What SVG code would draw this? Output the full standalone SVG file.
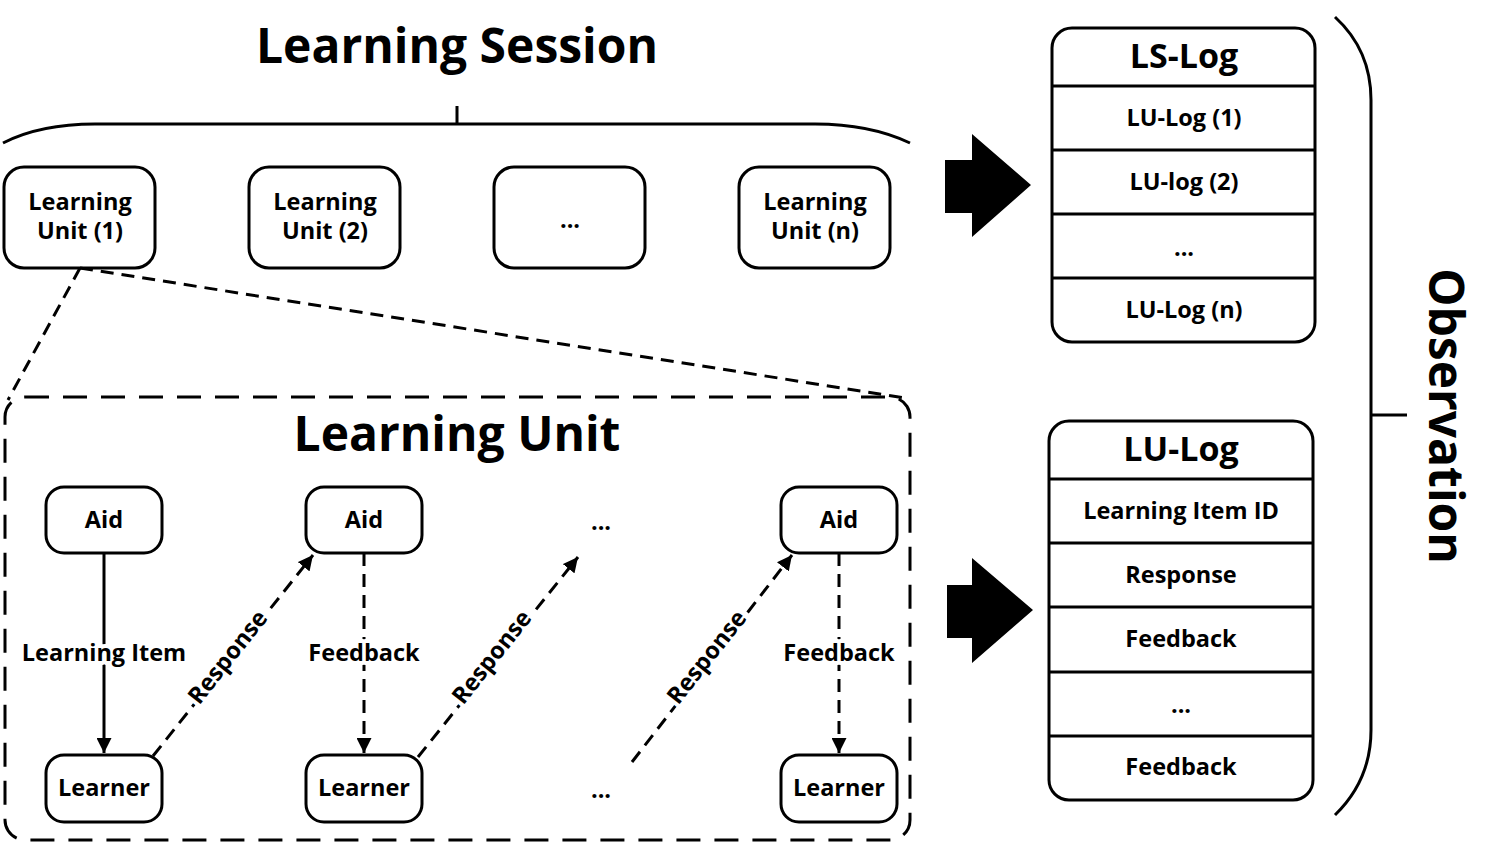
<svg xmlns="http://www.w3.org/2000/svg" width="1491" height="844" viewBox="0 0 1491 844">
<style>
text{font-family:"Open Sans","Noto Sans","DejaVu Sans",sans-serif;font-weight:bold;fill:#000;text-anchor:middle}
.box{fill:#fff;stroke:#000;stroke-width:3}
.t22{font-size:23.5px}
.t32{font-size:34px}
.t48{font-size:48px}
.ln{fill:none;stroke:#000;stroke-width:3}
.dash{fill:none;stroke:#000;stroke-width:3;stroke-dasharray:13 8}
.lbl{font-size:23.5px;paint-order:stroke;stroke:#fff;stroke-width:8;stroke-linejoin:round}
</style>
<defs>
<marker id="ah" viewBox="0 0 10 10" refX="10" refY="5" markerWidth="5" markerHeight="5" orient="auto" markerUnits="strokeWidth">
<path d="M0,0 L10,5 L0,10 z" fill="#000"/>
</marker>
</defs>

<g id="title-session">
<text class="t48" x="457" y="63">Learning Session</text>
<path class="ln" d="M3,143 Q40,124 95,124 L815,124 Q870,124 910,143 M457,106 L457,124"/>
</g>

<g id="lu1"><rect class="box" x="4" y="167" width="151" height="101" rx="20"/><text class="t22" x="80" y="210">Learning</text><text class="t22" x="80" y="239">Unit (1)</text></g>
<g id="lu2"><rect class="box" x="249" y="167" width="151" height="101" rx="20"/><text class="t22" x="325" y="210">Learning</text><text class="t22" x="325" y="239">Unit (2)</text></g>
<g id="lu3"><rect class="box" x="494" y="167" width="151" height="101" rx="20"/><text class="t22" x="570" y="228">...</text></g>
<g id="lun"><rect class="box" x="739" y="167" width="151" height="101" rx="20"/><text class="t22" x="815" y="210">Learning</text><text class="t22" x="815" y="239">Unit (n)</text></g>

<g id="arrow1"><path d="M945,160 L972,160 L972,134 L1031,185 L972,237 L972,213 L945,213 z" fill="#000"/></g>
<g id="arrow2"><path d="M947,585 L972,585 L972,558 L1033,610 L972,663 L972,638 L947,638 z" fill="#000"/></g>

<g id="ls-log">
<rect class="box" x="1052" y="28" width="263" height="314" rx="20"/>
<path class="ln" d="M1052,86 H1315 M1052,150 H1315 M1052,214 H1315 M1052,278 H1315"/>
<text class="t32" x="1184" y="68">LS-Log</text>
<text class="t22" x="1184" y="126">LU-Log (1)</text>
<text class="t22" x="1184" y="190">LU-log (2)</text>
<text class="t22" x="1184" y="256">...</text>
<text class="t22" x="1184" y="318">LU-Log (n)</text>
</g>

<g id="lu-log">
<rect class="box" x="1049" y="421" width="264" height="379" rx="20"/>
<path class="ln" d="M1049,479 H1313 M1049,543 H1313 M1049,607 H1313 M1049,672 H1313 M1049,736 H1313"/>
<text class="t32" x="1181" y="461">LU-Log</text>
<text class="t22" x="1181" y="519">Learning Item ID</text>
<text class="t22" x="1181" y="583">Response</text>
<text class="t22" x="1181" y="647">Feedback</text>
<text class="t22" x="1181" y="713">...</text>
<text class="t22" x="1181" y="775">Feedback</text>
</g>

<g id="observation">
<path class="ln" d="M1335,17 Q1371,50 1371,100 L1371,730 Q1371,780 1335,815 M1371,415 H1407"/>
<text class="t48" transform="translate(1429,416) rotate(90)" x="0" y="0">Observation</text>
</g>

<g id="zoom-lines">
<path class="dash" d="M80,268 L8,400 M80,268 L905,398"/>
</g>

<g id="learning-unit">
<rect x="5" y="397" width="905" height="443" rx="20" fill="none" stroke="#000" stroke-width="3" stroke-dasharray="24 14"/>
<text class="t48" x="457" y="451">Learning Unit</text>
</g>

<g id="aid1"><rect class="box" x="46" y="487" width="116" height="66" rx="18"/><text class="t22" x="104" y="528">Aid</text></g>
<g id="aid2"><rect class="box" x="306" y="487" width="116" height="66" rx="18"/><text class="t22" x="364" y="528">Aid</text></g>
<g id="aid3"><rect class="box" x="781" y="487" width="116" height="66" rx="18"/><text class="t22" x="839" y="528">Aid</text></g>
<g id="learner1"><rect class="box" x="46" y="755" width="116" height="67" rx="18"/><text class="t22" x="104" y="796">Learner</text></g>
<g id="learner2"><rect class="box" x="306" y="755" width="116" height="67" rx="18"/><text class="t22" x="364" y="796">Learner</text></g>
<g id="learner3"><rect class="box" x="781" y="755" width="116" height="67" rx="18"/><text class="t22" x="839" y="796">Learner</text></g>
<g id="ellipsis"><text class="t22" x="601" y="530">...</text><text class="t22" x="601" y="798">...</text></g>

<g id="connectors">
<path class="ln" d="M104,553 L104,753" marker-end="url(#ah)"/>
<path class="dash" d="M153,756 L313,555" marker-end="url(#ah)"/>
<path class="dash" d="M364,553 L364,753" marker-end="url(#ah)"/>
<path class="dash" d="M418,757 L578,557" marker-end="url(#ah)"/>
<path class="dash" d="M632,762 L792,555" marker-end="url(#ah)"/>
<path class="dash" d="M839,553 L839,753" marker-end="url(#ah)"/>
<text class="lbl" x="104" y="661">Learning Item</text>
<text class="lbl" x="364" y="661">Feedback</text>
<text class="lbl" x="839" y="661">Feedback</text>
<text class="lbl" transform="translate(234,662) rotate(-51.5)">Response</text>
<text class="lbl" transform="translate(498,662) rotate(-51.5)">Response</text>
<text class="lbl" transform="translate(713,662) rotate(-51.5)">Response</text>
</g>
</svg>
